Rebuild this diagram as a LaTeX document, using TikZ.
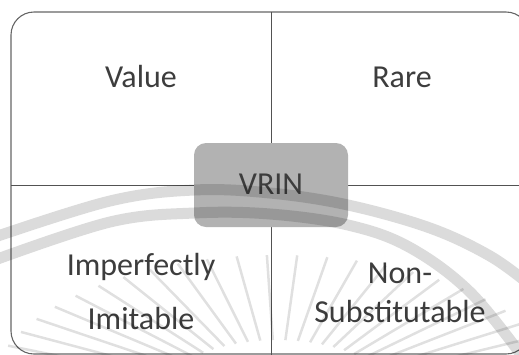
\documentclass[tikz,border=0pt]{standalone}
\usepackage{fontspec}
\setmainfont{Carlito}
\begin{document}
\begin{tikzpicture}[x=1pt,y=-1pt,
  frame/.style={draw=black!60, line width=1.1pt, rounded corners=23pt},
  divider/.style={draw=black!68, line width=0.9pt},
  label/.style={font=\fontsize{32}{36}\selectfont, text=black!76, anchor=base, inner sep=0pt},
  core/.style={fill=black!30, rounded corners=12pt, minimum width=154pt, minimum height=84pt,
    inner sep=0pt, font=\fontsize{32}{36}\selectfont, text=black!76},
  band/.style={draw=black, draw opacity=0.14, line width=11pt},
  ray/.style={draw=black, draw opacity=0.12, line width=2.5pt}]
\useasboundingbox (0,0) rectangle (519,354);
\clip (0,0) rectangle (519,354);

% outer frame, running past the right and bottom edges
\draw[frame] (11,12) rectangle (529,354);

% quadrant dividers
\coordinate (top) at (271,12);
\coordinate (bottom) at (271,360);
\coordinate (left) at (11,185);
\coordinate (right) at (530,185);
\draw[divider] (top) -- (bottom);
\draw[divider] (left) -- (right);

% quadrant labels
\node[label] (value) at (141,87) {Value};
\node[label] (rare) at (402,87) {Rare};
\node[label] (imp1) at (141,275) {Imperfectly};
\node[label] (imp2) at (141,329) {Imitable};
\node[label] (non1) at (400,283) {Non-};
\node[label] (non2) at (400,322) {Substitutable};

% centre box
\node[core, text depth=2pt] (vrin) at (271,185) {VRIN};

% faint seal in the background
\draw[band] plot[smooth, tension=0.6] coordinates
  {(-8,238) (110,201) (194,190) (270,193) (348,205) (430,228) (490,256) (530,285)};
\draw[band] plot[smooth, tension=0.6] coordinates
  {(-8,261) (110,222) (194,213) (270,214) (348,225) (409,247) (470,292) (525,360)};
\coordinate (sun) at (277,400);
\foreach \a in {20,26,...,160}
  \draw[ray] ([shift={(\a:120pt and 60pt)}]sun) -- ([shift={(\a:290pt and 145pt)}]sun);
\end{tikzpicture}
\end{document}
